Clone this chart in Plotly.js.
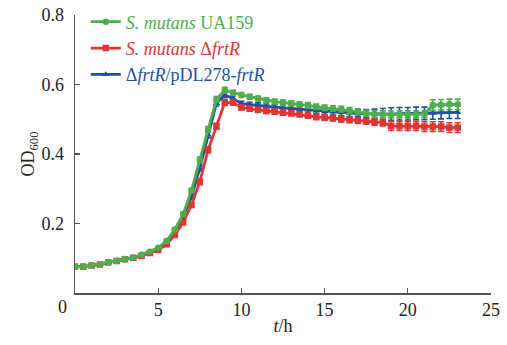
<!DOCTYPE html>
<html>
<head>
<meta charset="utf-8">
<script src="https://cdn.plot.ly/plotly-3.0.1.min.js"></script>
<style>html,body{margin:0;padding:0;background:#fff;}#chart{width:507px;height:345px;}</style>
</head>
<body>
<div id="chart"></div>
<script>
// time points (h)
var time = [0,0.5,1,1.5,2,2.5,3,3.5,4,4.5,5,5.5,6,6.5,7,7.5,8,8.5,9,9.5,10,10.5,11,11.5,12,12.5,13,13.5,14,14.5,15,15.5,16,16.5,17,17.5,18,18.5,19,19.5,20,20.5,21,21.5,22,22.5,23];

var wtName = '<span style="color:#4dae4d"><i>S. mutans</i> UA159</span>';
var wtOD = [0.076,0.076,0.079,0.083,0.089,0.093,0.098,0.102,0.110,0.119,0.130,0.150,0.183,0.227,0.295,0.383,0.471,0.557,0.584,0.576,0.570,0.565,0.560,0.555,0.551,0.548,0.546,0.543,0.540,0.536,0.533,0.531,0.529,0.525,0.521,0.517,0.515,0.514,0.514,0.514,0.514,0.514,0.515,0.541,0.542,0.543,0.543];
var wtErr = [0.002,0.002,0.002,0.002,0.002,0.002,0.002,0.002,0.002,0.002,0.003,0.003,0.004,0.005,0.006,0.008,0.008,0.008,0.008,0.007,0.007,0.007,0.007,0.007,0.007,0.007,0.007,0.007,0.008,0.008,0.008,0.008,0.008,0.009,0.009,0.009,0.010,0.010,0.010,0.010,0.010,0.010,0.010,0.015,0.015,0.015,0.015];

var mutName = '<span style="color:#e03535"><i>S. mutans</i> Δ<i>frtR</i></span>';
var mutOD = [0.076,0.076,0.079,0.082,0.088,0.092,0.097,0.101,0.107,0.115,0.124,0.140,0.167,0.203,0.253,0.320,0.412,0.480,0.548,0.548,0.534,0.530,0.527,0.524,0.522,0.519,0.517,0.514,0.511,0.507,0.505,0.503,0.500,0.498,0.496,0.494,0.492,0.490,0.481,0.481,0.481,0.481,0.479,0.479,0.479,0.476,0.476];
var mutErr = [0.002,0.002,0.002,0.002,0.002,0.002,0.002,0.002,0.002,0.003,0.003,0.003,0.004,0.005,0.006,0.008,0.008,0.008,0.008,0.007,0.007,0.007,0.007,0.007,0.007,0.007,0.007,0.007,0.008,0.008,0.008,0.008,0.008,0.008,0.008,0.008,0.009,0.009,0.013,0.013,0.013,0.013,0.014,0.014,0.014,0.014,0.014];

var compName = '<span style="color:#22509f">Δ<i>frtR</i>/pDL278-<i>frtR</i></span>';
var compOD = [0.076,0.076,0.079,0.083,0.088,0.093,0.098,0.102,0.109,0.118,0.128,0.147,0.178,0.220,0.277,0.359,0.455,0.546,0.570,0.560,0.545,0.542,0.540,0.537,0.535,0.533,0.531,0.529,0.527,0.525,0.523,0.521,0.520,0.518,0.517,0.516,0.515,0.515,0.515,0.516,0.516,0.517,0.517,0.518,0.519,0.520,0.520];
var compErr = [0.002,0.002,0.002,0.002,0.002,0.002,0.002,0.002,0.002,0.003,0.003,0.003,0.004,0.005,0.006,0.008,0.008,0.008,0.008,0.007,0.007,0.007,0.007,0.007,0.007,0.008,0.008,0.008,0.008,0.008,0.009,0.009,0.009,0.010,0.010,0.012,0.014,0.016,0.018,0.018,0.018,0.018,0.018,0.018,0.018,0.018,0.018];

var xTicks = [5,10,15,20,25];
var yTicks = [0.2,0.4,0.6,0.8];
var yTickText = ['0.2','0.4','0.6','0.8'];

var cGreen = '#4dae4d', cRed = '#e03535', cBlue = '#22509f';

function mk(name, y, err, color, symbol, rank) {
  return {
    x: time, y: y, name: name, type: 'scatter', mode: 'lines+markers',
    line: {color: color, width: 2.8},
    marker: {color: color, symbol: symbol, size: 6.5},
    error_y: {type: 'data', array: err, visible: true, color: color, thickness: 1.6, width: 3},
    legendrank: rank
  };
}

var data = [
  mk(compName, compOD, compErr, cBlue, 'triangle-up', 3),
  mk(mutName, mutOD, mutErr, cRed, 'square', 2),
  mk(wtName, wtOD, wtErr, cGreen, 'circle', 1)
];

var fam = 'Liberation Serif, DejaVu Serif, serif';
var font = {family: fam, size: 18, color: '#222'};

var layout = {
  width: 507, height: 345,
  margin: {l: 75, r: 16, t: 15, b: 52, pad: 0, autoexpand: false},
  paper_bgcolor: '#fff', plot_bgcolor: '#fff',
  font: font,
  showlegend: true,
  legend: {x: 0.026, y: 0.99, xanchor: 'left', yanchor: 'top', yref: 'container',
           bgcolor: 'rgba(0,0,0,0)',
           font: {family: fam, size: 18}, tracegroupgap: 0, itemwidth: 30},
  xaxis: {
    range: [0, 25], tickvals: xTicks, showgrid: false, zeroline: false,
    showline: true, linecolor: '#555', linewidth: 1.5,
    ticks: 'inside', ticklen: 5, tickcolor: '#555', tickwidth: 1.2,
    tickfont: font, ticklabelstandoff: 0,
    title: {text: '<i>t</i>/h', font: font, standoff: 0}
  },
  yaxis: {
    range: [0, 0.8], tickvals: yTicks, ticktext: yTickText, showgrid: false, zeroline: false,
    showline: true, linecolor: '#555', linewidth: 1.5,
    ticks: 'inside', ticklen: 5, tickcolor: '#555', tickwidth: 1.2,
    tickfont: font, ticklabelstandoff: 6,
    title: {text: 'OD<sub>600</sub>', font: font, standoff: 2}
  },
  annotations: [{
    text: '0', xref: 'paper', yref: 'paper', x: -0.031, y: -0.05,
    xanchor: 'center', yanchor: 'middle', showarrow: false, font: font
  }]
};

Plotly.newPlot('chart', data, layout, {displayModeBar: false, staticPlot: true});
</script>
</body>
</html>
